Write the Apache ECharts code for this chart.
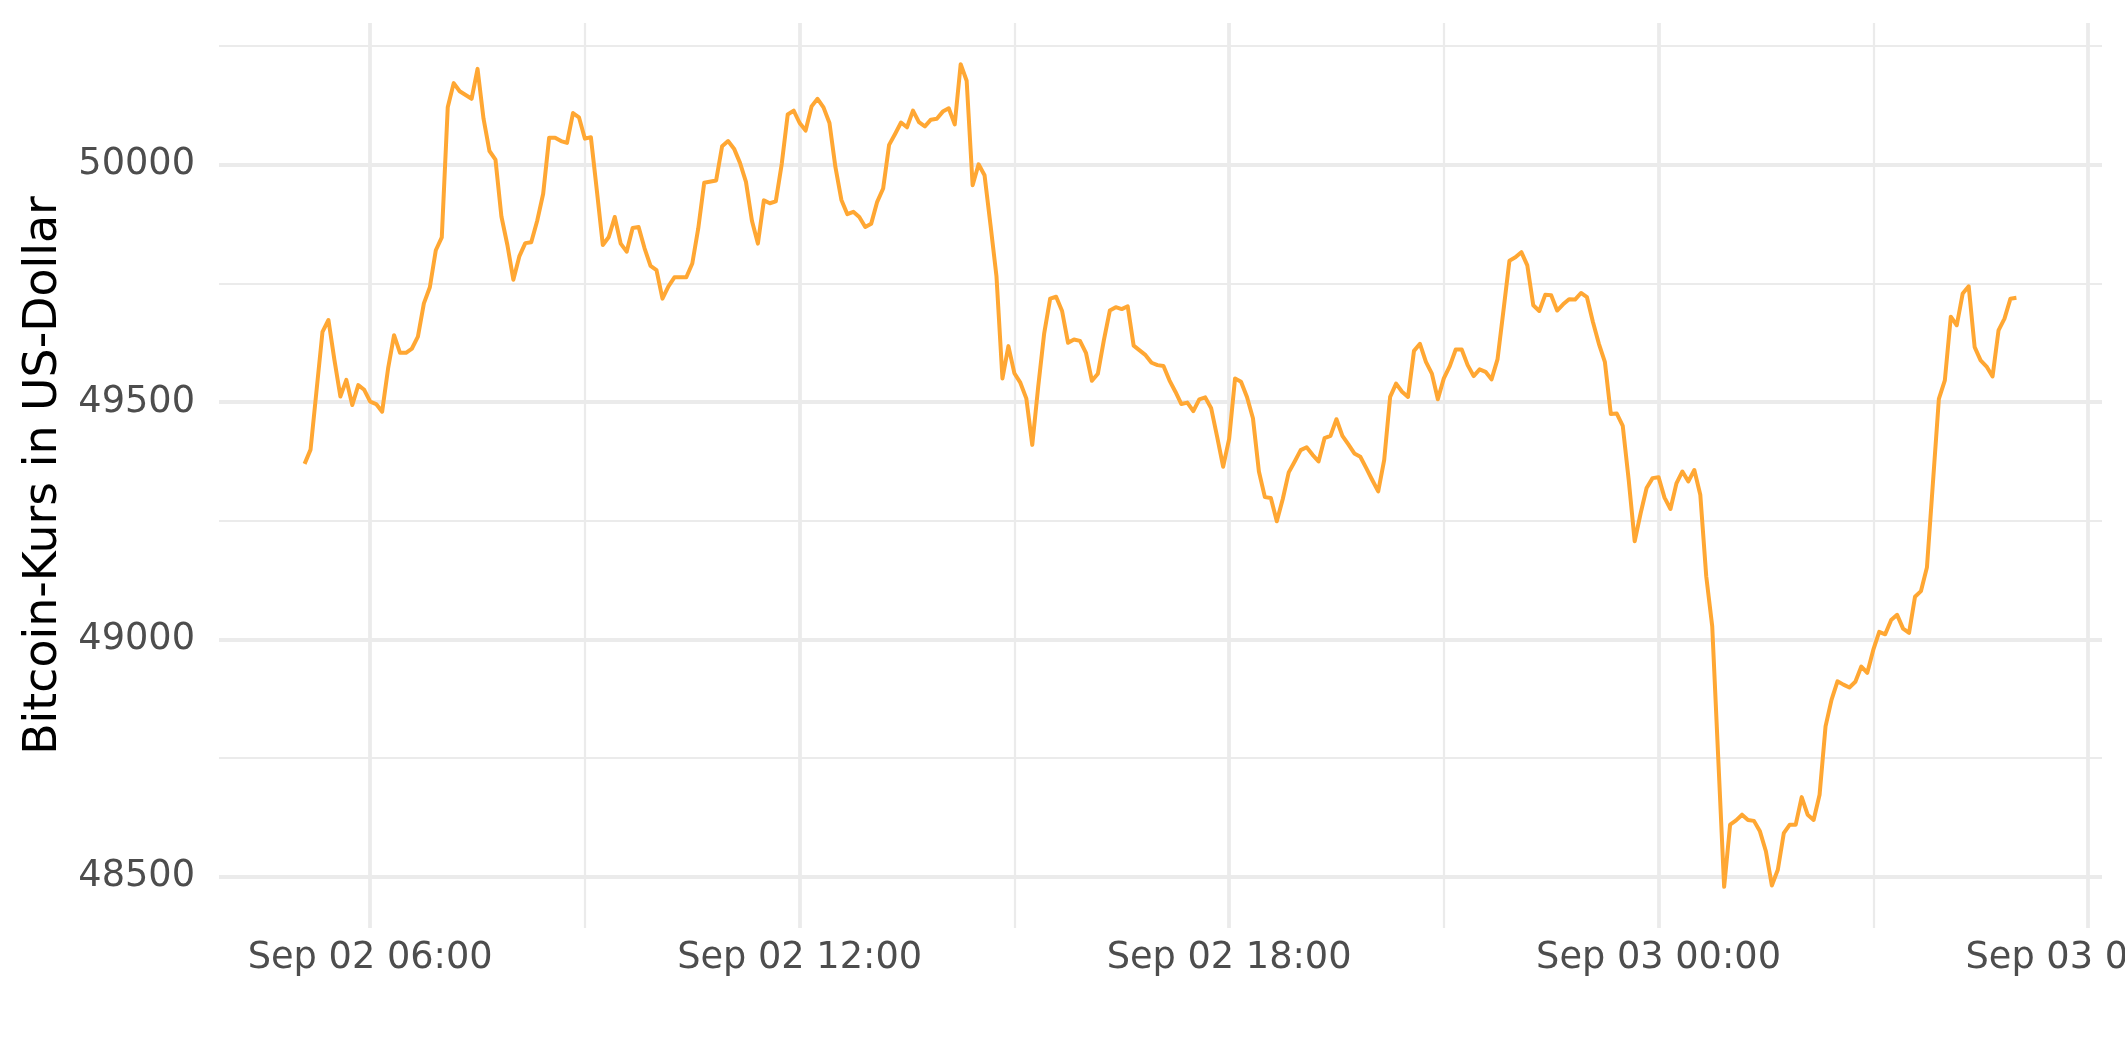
<!DOCTYPE html>
<html>
<head>
<meta charset="utf-8">
<script src="https://cdn.jsdelivr.net/npm/echarts@6/dist/echarts.min.js"></script>
<style>
  html, body { margin: 0; padding: 0; background: #ffffff; }
  #chart { width: 2125px; height: 1062px; }
</style>
</head>
<body>
<div id="chart"></div>
<script>
// ---- Data (5-minute Bitcoin prices) ----
const day1Times = ["05:05","05:10","05:20","05:25","05:30","05:35","05:40","05:45","05:50","05:55",
"06:00","06:05","06:10","06:15","06:20","06:25","06:30","06:35","06:40","06:45","06:50","06:55",
"07:00","07:05","07:10","07:15","07:25","07:30","07:35","07:40","07:45","07:50","07:55",
"08:00","08:05","08:10","08:15","08:20","08:25","08:30","08:35","08:40","08:45","08:50","08:55",
"09:00","09:05","09:10","09:15","09:20","09:25","09:30","09:35","09:40","09:45","09:50","09:55",
"10:00","10:05","10:10","10:15","10:25","10:30","10:35","10:40","10:50","10:55",
"11:00","11:05","11:10","11:15","11:20","11:25","11:30","11:35","11:40","11:45","11:50","11:55",
"12:00","12:05","12:10","12:15","12:20","12:25","12:30","12:35","12:40","12:45","12:50","12:55",
"13:00","13:05","13:10","13:15","13:20","13:25","13:30","13:35","13:40","13:45","13:50","13:55",
"14:00","14:05","14:10","14:15","14:20","14:25","14:30","14:35","14:40","14:45","14:50","14:55",
"15:00","15:05","15:10","15:15","15:20","15:25","15:30","15:35","15:40","15:45","15:50","15:55",
"16:00","16:05","16:10","16:15","16:20","16:25","16:30","16:35","16:40","16:45","16:50","16:55",
"17:00","17:05","17:10","17:15","17:20","17:25","17:30","17:35","17:40","17:45","17:50","17:55",
"18:00","18:05","18:10","18:15","18:20","18:25","18:30","18:35","18:40","18:45","18:50","18:55",
"19:00","19:05","19:10","19:15","19:20","19:25","19:30","19:35","19:40","19:45","19:50","19:55",
"20:00","20:05","20:10","20:15","20:20","20:25","20:30","20:35","20:40","20:45","20:50","20:55",
"21:00","21:05","21:10","21:15","21:20","21:25","21:30","21:35","21:40","21:45","21:50","21:55",
"22:00","22:05","22:10","22:15","22:20","22:25","22:30","22:35","22:40","22:45","22:50","22:55",
"23:00","23:05","23:10","23:15","23:20","23:25","23:30","23:35","23:40","23:45","23:50","23:55"];
const day1Prices = [49370,49400,49648,49673,49589,49512,49547,49494,49536,49526,
49501,49496,49480,49571,49641,49604,49604,49613,49638,49708,49742,49820,
49847,50121,50172,50155,50139,50202,50097,50029,50011,49891,49831,
49758,49807,49835,49837,49882,49939,50057,50057,50050,50046,50109,50100,
50055,50058,49946,49831,49848,49890,49834,49817,49867,49869,49824,49787,
49778,49718,49744,49763,49763,49792,49866,49962,49967,50039,
50050,50034,50004,49964,49882,49834,49925,49919,49923,50002,50106,50114,
50088,50072,50123,50139,50121,50088,49995,49926,49896,49901,49890,49869,
49876,49922,49950,50042,50065,50089,50079,50114,50090,50081,50095,50097,
50112,50119,50085,50212,50177,49957,50001,49978,49873,49765,49550,49618,
49561,49541,49508,49410,49533,49645,49718,49722,49692,49625,49632,49629,
49604,49545,49560,49630,49693,49700,49696,49702,49619,49609,49599,49583,
49578,49576,49546,49522,49496,49499,49481,49506,49510,49487,49427,49364,
49422,49550,49543,49511,49466,49354,49300,49298,49249,49296,49352,49375,
49399,49405,49389,49375,49424,49429,49464,49429,49411,49392,49385,49361,
49336,49312,49378,49511,49539,49522,49511,49608,49623,49585,49560,49506,
49550,49576,49611,49611,49578,49555,49569,49564,49548,49590,49693,49798,
49805,49816,49788,49704,49692,49726,49725,49693,49706,49717,49716,49730,
49721,49669,49623,49585,49475,49476,49450,49336,49207,49266,49319,49340];

const day2Times = ["00:00","00:05","00:10","00:15","00:20","00:25","00:30","00:35","00:40","00:45","00:50","00:55",
"01:00","01:05","01:10","01:15","01:20","01:25","01:30","01:35","01:40","01:45","01:50","01:55",
"02:00","02:05","02:10","02:15","02:20","02:25","02:30","02:35","02:40","02:45","02:50","02:55",
"03:00","03:05","03:10","03:15","03:20","03:25","03:30","03:35","03:40","03:45","03:55",
"04:00","04:05","04:10","04:15","04:20","04:25","04:30","04:35","04:40","04:45","04:50","04:55",
"05:00"];
const day2Prices = [49342,49299,49275,49329,49354,49333,49357,49305,49133,49028,48753,48479,
48610,48619,48631,48620,48618,48596,48554,48482,48515,48592,48610,48610,
48668,48631,48620,48673,48817,48873,48912,48905,48899,48911,48943,48930,
48978,49016,49011,49041,49052,49023,49014,49090,49102,49152,49507,
49546,49680,49662,49729,49744,49616,49588,49575,49554,49651,49676,49718,
49720];

const day1Date = "2021-09-02";
const day2Date = "2021-09-03";

// Axis ticks / labels
const xMajorTicks = ["2021-09-02 06:00","2021-09-02 12:00","2021-09-02 18:00","2021-09-03 00:00","2021-09-03 06:00"];
const xMinorTicks = ["2021-09-02 09:00","2021-09-02 15:00","2021-09-02 21:00","2021-09-03 03:00"];
const yMajorTicks = [48500, 49000, 49500, 50000];
const yMinorTicks = [48750, 49250, 49750, 50250];
const monthNames = ["Jan","Feb","Mar","Apr","May","Jun","Jul","Aug","Sep","Oct","Nov","Dec"];
const yTitle = "Bitcoin-Kurs in US-Dollar";

// ---- Build ----
function parseT(s) {
  const [d, t] = s.split(" ");
  const [Y, M, D] = d.split("-").map(Number);
  const [h, m] = t.split(":").map(Number);
  return Date.UTC(Y, M - 1, D, h, m, 0);
}
const pad = n => (n < 10 ? "0" : "") + n;
function fmtTime(v) {
  const d = new Date(Math.round(v));
  return monthNames[d.getUTCMonth()] + " " + pad(d.getUTCDate()) + " " + pad(d.getUTCHours()) + ":" + pad(d.getUTCMinutes());
}

const seriesData = [];
day1Times.forEach((t, i) => seriesData.push([parseT(day1Date + " " + t), day1Prices[i]]));
day2Times.forEach((t, i) => seriesData.push([parseT(day2Date + " " + t), day2Prices[i]]));

// ggplot-like 5% expansion of data range
const xs = seriesData.map(p => p[0]);
const ys = seriesData.map(p => p[1]);
const xMinD = Math.min(...xs), xMaxD = Math.max(...xs);
const yMinD = Math.min(...ys), yMaxD = Math.max(...ys);
const xPad = (xMaxD - xMinD) * 0.05, yPad = (yMaxD - yMinD) * 0.05;
const xMin = xMinD - xPad, xMax = xMaxD + xPad;
const yMin = yMinD - yPad, yMax = yMaxD + yPad;

const gridColor = "#EBEBEB";
const labelColor = "#4D4D4D";
const font = "DejaVu Sans";

const chart = echarts.init(document.getElementById("chart"), null, { renderer: "canvas" });
chart.setOption({
  animation: false,
  backgroundColor: "#ffffff",
  grid: {
    left: 219, top: 23, width: 1883, height: 905,
    containLabel: false, outerBoundsMode: "none"
  },
  xAxis: [
    {
      type: "value", min: xMin, max: xMax, scale: true,
      axisLine: { show: false },
      axisTick: { show: false, customValues: xMajorTicks.map(parseT) },
      axisLabel: {
        show: true, customValues: xMajorTicks.map(parseT),
        formatter: v => fmtTime(v),
        color: labelColor, fontFamily: font, fontSize: 36.7, margin: 12
      },
      splitLine: { show: true, lineStyle: { color: gridColor, width: 3.8 } }
    },
    {
      type: "value", min: xMin, max: xMax, scale: true, position: "bottom",
      axisLine: { show: false },
      axisTick: { show: false, customValues: xMinorTicks.map(parseT) },
      axisLabel: { show: false },
      splitLine: { show: true, lineStyle: { color: gridColor, width: 2.2 } }
    }
  ],
  yAxis: [
    {
      type: "value", min: yMin, max: yMax, scale: true,
      axisLine: { show: false },
      axisTick: { show: false, customValues: yMajorTicks },
      axisLabel: {
        show: true, customValues: yMajorTicks,
        formatter: v => String(v),
        color: labelColor, fontFamily: font, fontSize: 36.7, margin: 24
      },
      splitLine: { show: true, lineStyle: { color: gridColor, width: 3.8 } },
      name: yTitle, nameLocation: "middle", nameRotate: 90, nameGap: 152,
      nameTextStyle: { color: "#000000", fontFamily: font, fontSize: 45.8 }
    },
    {
      type: "value", min: yMin, max: yMax, scale: true, position: "left",
      axisLine: { show: false },
      axisTick: { show: false, customValues: yMinorTicks },
      axisLabel: { show: false },
      splitLine: { show: true, lineStyle: { color: gridColor, width: 2.2 } }
    }
  ],
  series: [{
    type: "line",
    xAxisIndex: 0, yAxisIndex: 0,
    data: seriesData,
    showSymbol: false,
    symbol: "none",
    lineStyle: { color: "#FFA733", width: 4, join: "round", cap: "butt" },
    itemStyle: { color: "#FFA733" }
  }]
});
</script>
</body>
</html>
